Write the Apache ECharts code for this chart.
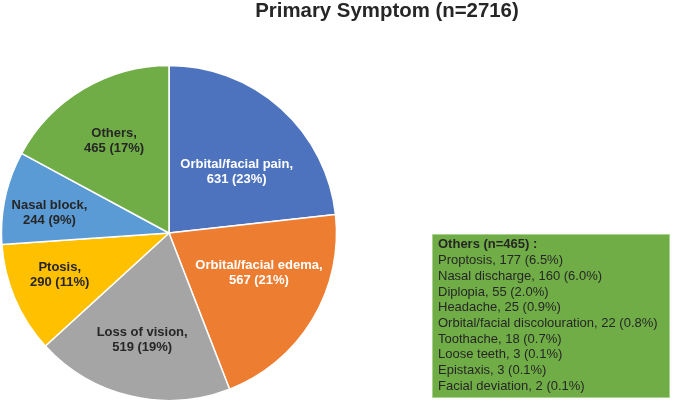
<!DOCTYPE html>
<html>
<head>
<meta charset="utf-8">
<title>Primary Symptom</title>
<script src="https://cdn.jsdelivr.net/npm/echarts@6/dist/echarts.min.js"></script>
<style>
  html, body { margin: 0; padding: 0; background: #fff; }
  #chart { width: 674px; height: 404px; }
</style>
</head>
<body>
<div id="chart"></div>
<script>
// main pie data
var symptoms = ['Orbital/facial pain', 'Orbital/facial edema', 'Loss of vision', 'Ptosis', 'Nasal block', 'Others'];
var counts = [631, 567, 519, 290, 244, 465];
var totalN = 2716;

// breakdown of "Others"
var otherNames = ['Proptosis', 'Nasal discharge', 'Diplopia', 'Headache', 'Orbital/facial discolouration',
  'Toothache', 'Loose teeth', 'Epistaxis', 'Facial deviation'];
var otherCounts = [177, 160, 55, 25, 22, 18, 3, 3, 2];
var otherPcts = ['6.5', '6.0', '2.0', '0.9', '0.8', '0.7', '0.1', '0.1', '0.1'];

var colors = ['#4E73BE', '#ED7D31', '#A5A5A5', '#FFC000', '#5B9BD5', '#70AD47'];
var labelColors = ['#fff', '#fff', '#262626', '#262626', '#262626', '#262626'];
// how far out (fraction of radius) each label sits, plus a small nudge in px
var labelRadius = [0.57, 0.6, 0.65, 0.71, 0.73, 0.64];
var labelNudge = [[4, 10], [4, -12], [-2, 1], [0, -5], [0, 6], [0, 0]];

var cx = 169, cy = 233, R = 167.5;

var pieData = [];
for (var i = 0; i < symptoms.length; i++) {
  pieData.push({
    name: symptoms[i],
    value: counts[i],
    itemStyle: {color: colors[i]},
    label: {color: labelColors[i]}
  });
}

var othersTotal = counts[symptoms.indexOf('Others')];
var boxLines = ['{h|Others (n=' + othersTotal + ') :}'];
for (var j = 0; j < otherNames.length; j++) {
  boxLines.push('{t|' + otherNames[j] + ', ' + otherCounts[j] + ' (' + otherPcts[j] + '%)}');
}

var chart = echarts.init(document.getElementById('chart'), null, {renderer: 'canvas'});
chart.setOption({
  animation: false,
  title: [{
    text: 'Primary Symptom (n=' + totalN + ')',
    left: 387,
    top: 1,
    textAlign: 'center',
    padding: 0,
    textStyle: {
      fontFamily: 'Liberation Sans, Arial, sans-serif',
      fontSize: 20.4,
      fontWeight: 'bold',
      color: '#262626'
    }
  }, {
    text: boxLines.join('\n'),
    left: 432,
    top: 233,
    padding: [4, 12, 5, 6],
    backgroundColor: '#70AD47',
    borderColor: '#A9D18E',
    borderWidth: 1,
    textStyle: {
      fontFamily: 'Liberation Sans, Arial, sans-serif',
      fontWeight: 'normal',
      rich: {
        h: {fontSize: 13, fontWeight: 'bold', color: '#262626', lineHeight: 15.7},
        t: {fontSize: 13, fontWeight: 'normal', color: '#262626', lineHeight: 15.7}
      }
    }
  }],
  series: [{
    type: 'pie',
    center: [cx, cy],
    radius: R,
    startAngle: 90,
    clockwise: true,
    percentPrecision: 0,
    emphasis: {scale: false},
    itemStyle: {borderColor: '#fff', borderWidth: 1.5},
    label: {
      position: 'inside',
      formatter: '{b},\n{c} ({d}%)',
      fontFamily: 'Liberation Sans, Arial, sans-serif',
      fontSize: 13,
      fontWeight: 'bold',
      lineHeight: 15,
      align: 'center'
    },
    labelLine: {show: false},
    labelLayout: function (params) {
      var r = params.labelRect;
      var k = params.dataIndex;
      var lx = r.x + r.width / 2 - cx;
      var ly = r.y + r.height / 2 - cy;
      var d = Math.sqrt(lx * lx + ly * ly) || 1;
      var f = labelRadius[k] * R;
      return {
        dx: lx / d * f - lx + labelNudge[k][0],
        dy: ly / d * f - ly + labelNudge[k][1]
      };
    },
    data: pieData
  }]
});
</script>
</body>
</html>
